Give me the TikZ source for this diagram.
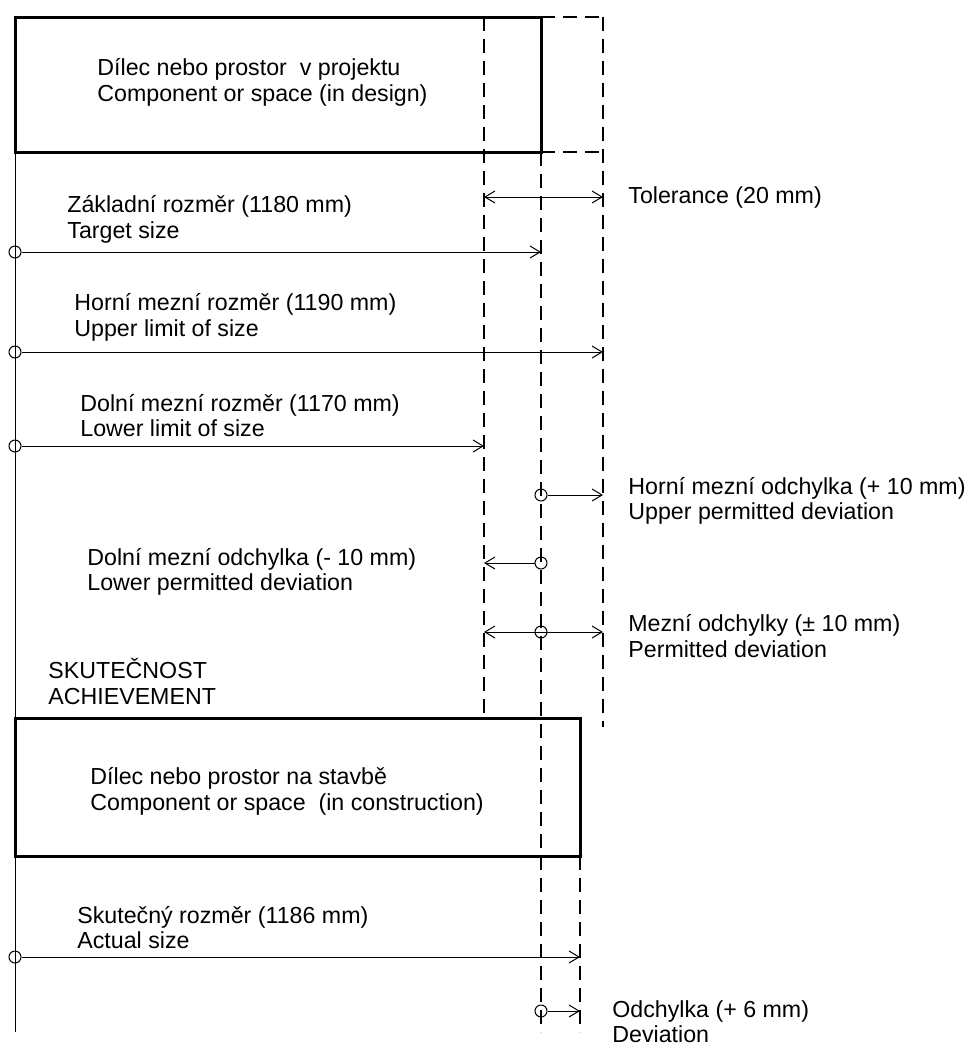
\documentclass[tikz,border=0pt]{standalone}
\usepackage{fontspec}
\setmainfont{Liberation Sans}
\usetikzlibrary{positioning, arrows.meta}

\begin{document}
\begin{tikzpicture}[x=0.5pt, y=-0.5pt,
  >={Straight Barb[length=5pt, width=6pt]},
  every node/.style={font=\fontsize{11.6}{12.8}\selectfont, inner sep=0pt},
  lbl/.style={anchor=west, align=left},
  part/.style={draw, line width=1.5pt},
  guide/.style={dash pattern=on 7pt off 4pt, line width=0.6pt},
  dim/.style={line width=0.5pt},
  pt/.style={circle, draw, line width=0.5pt, minimum size=6pt}]
      \useasboundingbox (0,0) rectangle (974,1046);%

      % Parts
      % -- design
      \coordinate (P1) at (15,17);%
      \coordinate (P2) at (541,152);%
      \draw [part] (P1) rectangle (P2);%
      \node [lbl] (Pd) at (97,82.5) {Dílec nebo prostor~ v projektu\\Component or
        space (in design)};%
      % -- construction
      \coordinate (Q1) at (15,718);%
      \coordinate (Q2) at (580,856);%
      \draw [part] (Q1) rectangle (Q2);%
      \node [lbl] (Qd) at (90,791.5) {Dílec nebo prostor na stavbě\\Component or
        space~ (in construction)};%
      \node [lbl] (Sk) at (48,681.5) {SKUTEČNOST\\ACHIEVEMENT};%

      % guide lines
      \coordinate (gA0) at (484,17);%
      \coordinate (gA1) at (484,718);%
      \coordinate (gB0) at (541,152);%
      \coordinate (gB1) at (541,1032);%
      \coordinate (gC0) at (580,856);%
      \coordinate (gC1) at (580,1032);%
      \coordinate (gD0) at (603,17);%
      \coordinate (gD1) at (603,727);%
      \draw [guide] (gA0) -- (gA1);%
      \draw [guide] (gB0) -- (gB1);%
      \draw [guide] (gC0) -- (gC1);%
      \draw [guide] (gD0) -- (gD1);%
      \draw [guide] (P2 |- P1) -- (gD0);%
      \draw [guide] (P2) -- (P2 -| gD0);%
      \draw [dim] (P1 |- P2) -- (Q1);%
      \draw [dim] (Q1 |- Q2) -- (15,1032);%

      % dimensions
      % -- tolerance
      \coordinate (T0) at (484,197);%
      \draw [dim, <->] (T0) -- (T0 -| gD0);%
      \node [lbl] (T) at (628,197) {Tolerance (20 mm)};%
      % -- target size
      \node [pt] (S0) at (15,252) {};%
      \draw [dim, ->] (S0) -- (S0 -| gB0);%
      \node [lbl] (S) at (67,219.5) {Základní rozměr (1180 mm)\\Target size};%
      % -- upper limit
      \node [pt] (U0) at (15,352) {};%
      \draw [dim, ->] (U0) -- (U0 -| gD0);%
      \node [lbl] (U) at (74,317.5) {Horní mezní rozměr (1190 mm)\\Upper limit of
        size};%
      % -- lower limit
      \node [pt] (L0) at (15,446) {};%
      \draw [dim, ->] (L0) -- (L0 -| gA0);%
      \node [lbl] (L) at (80,415.5) {Dolní mezní rozměr (1170 mm)\\Lower limit of
        size};%
      % -- upper deviation
      \node [pt] (Ud0) at (541,495) {};%
      \draw [dim, ->] (Ud0) -- (Ud0 -| gD0);%
      \node [lbl] (Ud) at (628,501) {Horní mezní odchylka (+ 10 mm)\\Upper
        permitted deviation};%
      % -- lower deviation
      \node [pt] (Ld0) at (541,563) {};%
      \draw [dim, ->] (Ld0) -- (Ld0 -| gA0);%
      \node [lbl] (Ld) at (87,572) {Dolní mezní odchylka (- 10 mm)\\Lower
        permitted deviation};%
      % -- permitted deviation
      \node [pt] (M0) at (541,632) {};%
      \draw [dim, <->] (M0 -| gA0) -- (M0 -| gD0);%
      \node [lbl] (M) at (628,636) {Mezní odchylky (± 10 mm)\\Permitted
        deviation};%
      % -- actual size
      \node [pt] (A0) at (15,957) {};%
      \draw [dim, ->] (A0) -- (A0 -| gC0);%
      \node [lbl] (A) at (77,927.5) {Skutečný rozměr (1186 mm)\\Actual size};%
      % -- deviation
      \node [pt] (D0) at (541,1011) {};%
      \draw [dim, ->] (D0) -- (D0 -| gC0);%
      \node [lbl] (D) at (612,1021.5) {Odchylka (+ 6 mm)\\Deviation};%
    \end{tikzpicture}
\end{document}
